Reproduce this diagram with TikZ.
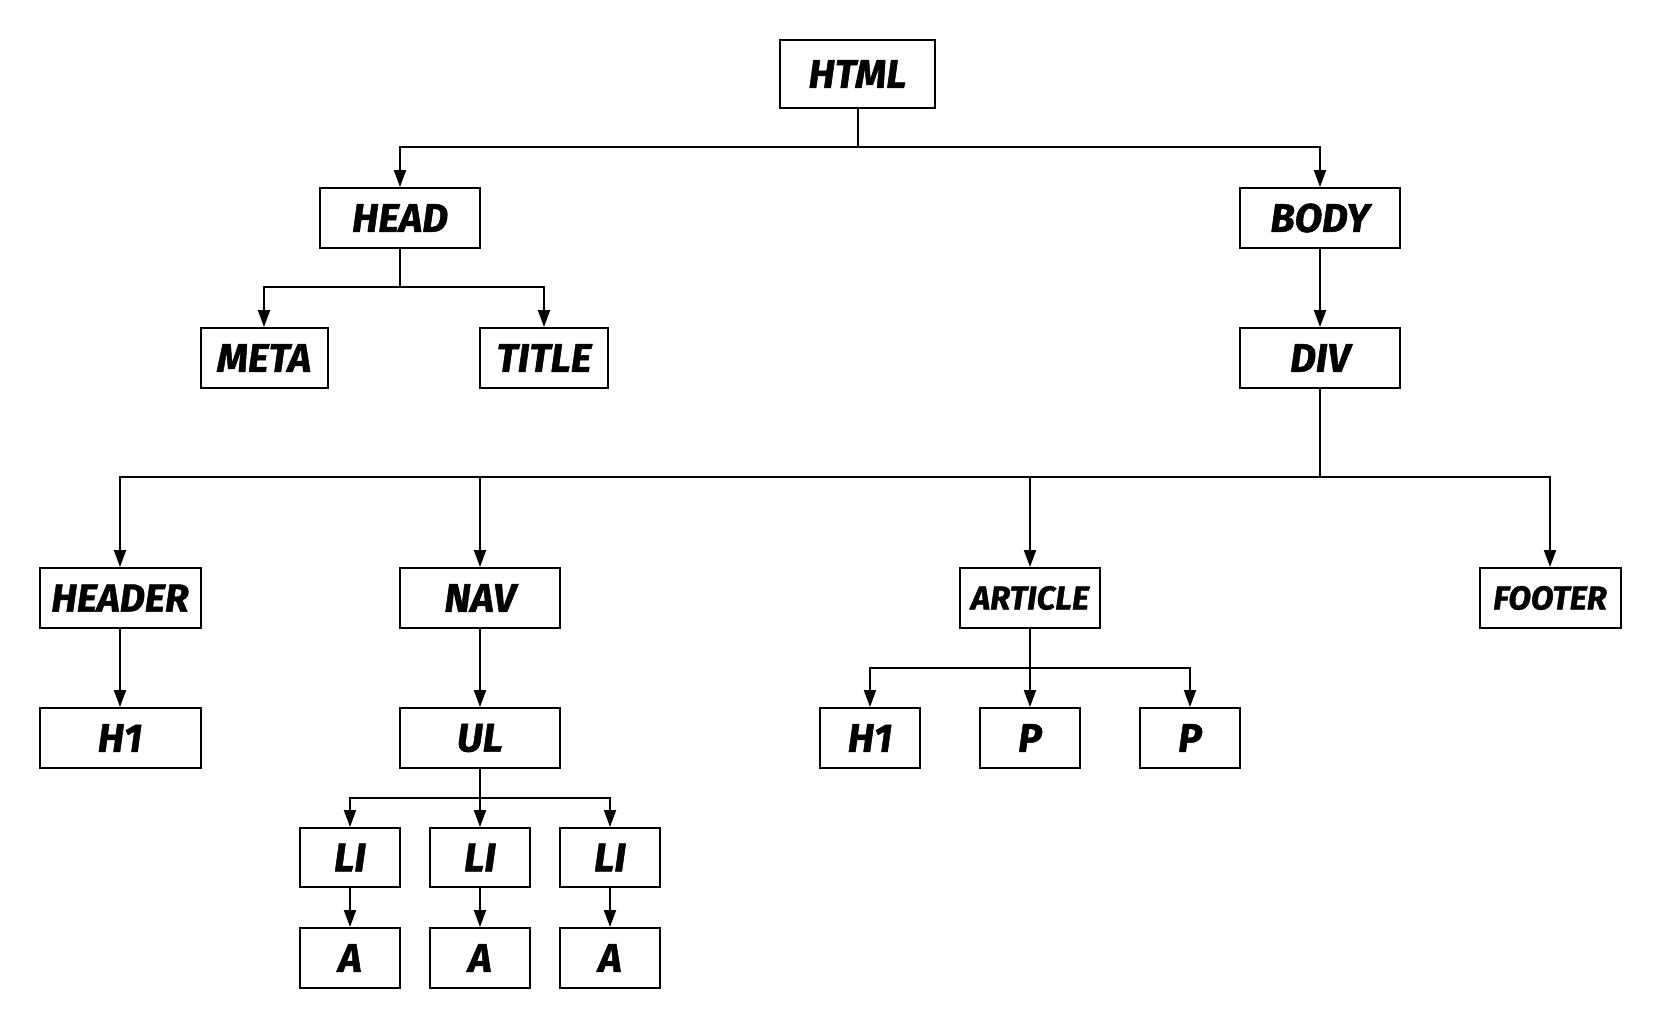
\documentclass[tikz,border=0pt]{standalone}
\usepackage{fontspec}
\setmainfont{Fira Sans}
\newfontfamily\heavy{Fira Sans}[BoldItalicFeatures={FakeBold=1.2}]
\usetikzlibrary{arrows.meta}
\begin{document}
\begin{tikzpicture}[x=0.5pt,y=-0.5pt,
  tag/.style={draw,line width=1pt,inner sep=0pt,minimum height=30pt,
    font=\fontsize{20}{20}\heavy\bfseries\itshape},
  wide/.style={tag,minimum width=80pt},
  narrow/.style={tag,minimum width=50pt},
  small/.style={font=\fontsize{16.5}{17}\heavy\bfseries\itshape},
  conn/.style={line width=1pt,-{Triangle[length=8.5pt,width=6pt]}},
  plain/.style={line width=1pt}]
\useasboundingbox (0,0) rectangle (1660,1028);
% nodes
\node[tag,minimum width=77.5pt,minimum height=34pt] (html) at (857.5,74) {HTML};
\node[wide] (head) at (400,218) {HEAD};
\node[wide] (body) at (1320,218) {BODY};
\node[tag,minimum width=63.5pt] (meta) at (264,358) {META};
\node[tag,minimum width=64pt] (title) at (544,358) {TITLE};
\node[wide] (div) at (1320,358) {DIV};
\node[wide,minimum width=80.5pt,font=\fontsize{19.5}{19.5}\heavy\bfseries\itshape] (header) at (120,598) {HEADER};
\node[wide] (nav) at (480,598) {NAV};
\node[tag,small,minimum width=70pt] (article) at (1030,598) {ARTICLE};
\node[tag,small,minimum width=70.5pt] (footer) at (1550,598) {FOOTER};
\node[wide,minimum width=80.5pt] (h1a) at (120,738) {H1};
\node[wide] (ul) at (480,738) {UL};
\node[narrow] (h1b) at (870,738) {H1};
\node[narrow] (p1) at (1030,738) {P};
\node[narrow] (p2) at (1190,738) {P};
\node[narrow,minimum height=29.5pt] (li1) at (350,857.5) {LI};
\node[narrow,minimum height=29.5pt] (li2) at (480,857.5) {LI};
\node[narrow,minimum height=29.5pt] (li3) at (610,857.5) {LI};
\node[narrow] (a1) at (350,958) {A};
\node[narrow] (a2) at (480,958) {A};
\node[narrow] (a3) at (610,958) {A};
% bus coordinates
\coordinate (bhtml) at (0,147);
\coordinate (bhead) at (0,287);
\coordinate (bdiv) at (0,477);
\coordinate (bart) at (0,668);
\coordinate (bul) at (0,798);
% connectors
\draw[plain] (html.south) -- (html.south |- bhtml);
\draw[conn] (html.south |- bhtml) -| (head.north);
\draw[conn] (html.south |- bhtml) -| (body.north);
\draw[plain] (head.south) -- (head.south |- bhead);
\draw[conn] (head.south |- bhead) -| (meta.north);
\draw[conn] (head.south |- bhead) -| (title.north);
\draw[conn] (body.south) -- (div.north);
\draw[plain] (div.south) -- (div.south |- bdiv);
\draw[conn] (div.south |- bdiv) -| (header.north);
\draw[conn] (div.south |- bdiv) -| (nav.north);
\draw[conn] (div.south |- bdiv) -| (article.north);
\draw[conn] (div.south |- bdiv) -| (footer.north);
\draw[conn] (header.south) -- (h1a.north);
\draw[conn] (nav.south) -- (ul.north);
\draw[plain] (article.south) -- (article.south |- bart);
\draw[conn] (article.south |- bart) -| (h1b.north);
\draw[conn] (article.south |- bart) -- (p1.north);
\draw[conn] (article.south |- bart) -| (p2.north);
\draw[plain] (ul.south) -- (ul.south |- bul);
\draw[conn] (ul.south |- bul) -| (li1.north);
\draw[conn] (ul.south |- bul) -- (li2.north);
\draw[conn] (ul.south |- bul) -| (li3.north);
\draw[conn] (li1.south) -- (a1.north);
\draw[conn] (li2.south) -- (a2.north);
\draw[conn] (li3.south) -- (a3.north);
\end{tikzpicture}
\end{document}
